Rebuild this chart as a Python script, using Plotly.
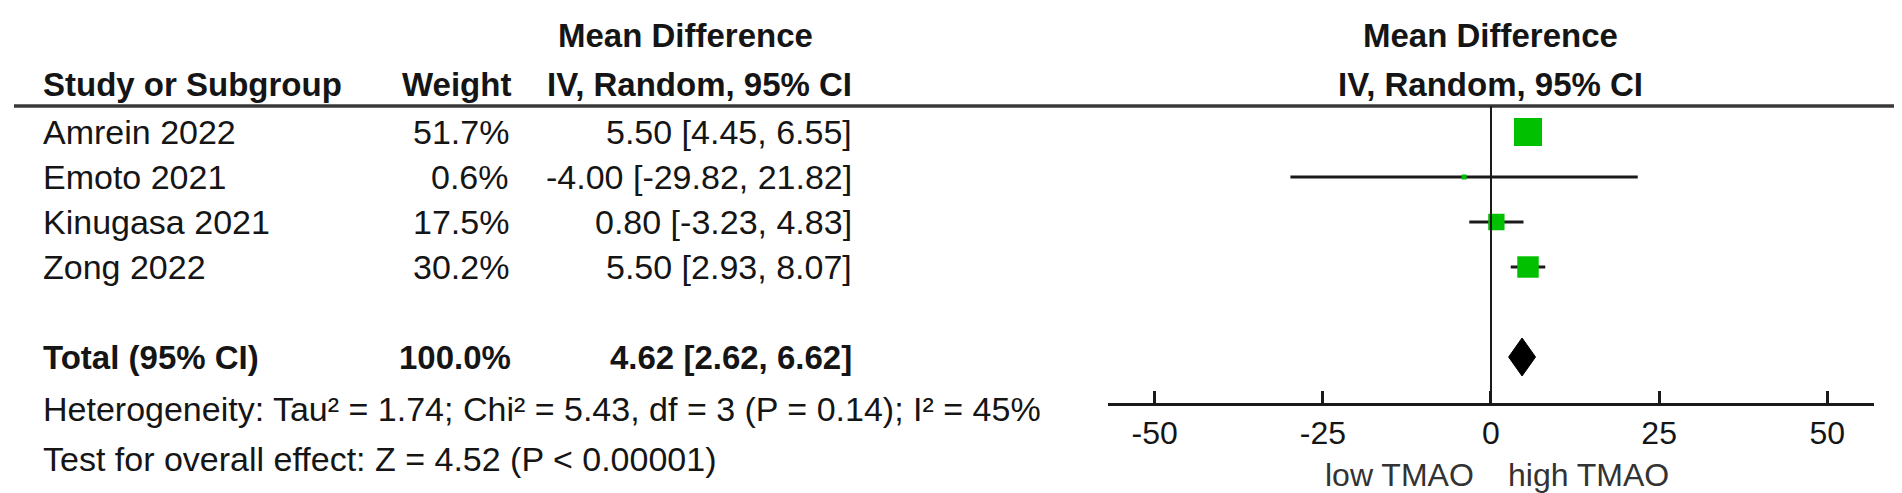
import plotly.graph_objects as go

# ---------------- data ----------------
studies = ["Amrein 2022", "Emoto 2021", "Kinugasa 2021", "Zong 2022"]
weights = [51.7, 0.6, 17.5, 30.2]
md = [5.50, -4.00, 0.80, 5.50]
ci_low = [4.45, -29.82, -3.23, 2.93]
ci_high = [6.55, 21.82, 4.83, 8.07]

total_label = "Total (95% CI)"
total_weight = 100.0
total_md = 4.62
total_low = 2.62
total_high = 6.62

heterogeneity = "Heterogeneity: Tau² = 1.74; Chi² = 5.43, df = 3 (P = 0.14); I² = 45%"
overall = "Test for overall effect: Z = 4.52 (P < 0.00001)"
tick_vals = [-50, -25, 0, 25, 50]
tick_text = ["-50", "-25", "0", "25", "50"]
favours_left = "low TMAO"
favours_right = "high TMAO"

# ---------------- layout constants ----------------
W, H = 1902, 493
ROW0, ROWH = 124, 45          # pixel of first row and row spacing
FONT = "Liberation Sans, Arial, sans-serif"
FS = 34
FSB = 33
TXT = "#151515"
GREEN = "rgb(0,192,0)"

def py(p):            # pixel y -> row units
    return (p - ROW0) / ROWH

def px(p):            # pixel x -> paper
    return p / W

def pyp(p):           # pixel y -> paper
    return 1 - p / H

rows = list(range(len(studies)))
total_row = len(studies) + 1

fig = go.Figure()

# CI lines (drawn first, under the squares)
ci_x, ci_y = [], []
for i in rows:
    ci_x += [ci_low[i], ci_high[i], None]
    ci_y += [i, i, None]
fig.add_trace(go.Scatter(
    x=ci_x, y=ci_y, mode="lines",
    line=dict(color="#1a1a1a", width=3),
    hoverinfo="skip", showlegend=False,
))

# squares, area proportional to weight
sizes = [max(3.9 * w ** 0.5, 5) for w in weights]
fig.add_trace(go.Scatter(
    x=md, y=rows, mode="markers",
    marker=dict(symbol="square", size=sizes, color=GREEN, opacity=1,
                line=dict(width=0)),
    hoverinfo="skip", showlegend=False,
))

# diamond for total
dh = 19 / ROWH
fig.add_trace(go.Scatter(
    x=[total_low, total_md, total_high, total_md, total_low],
    y=[total_row, total_row - dh, total_row, total_row + dh, total_row],
    mode="lines", fill="toself", fillcolor="#000000",
    line=dict(color="#000000", width=1),
    hoverinfo="skip", showlegend=False,
))

ann = []
def text(x, y, s, anchor="left", bold=False, xref="paper", size=None, color=TXT, xshift=0):
    if size is None:
        size = FSB if bold else FS
    if bold:
        s = "<b>" + s + "</b>"
    ann.append(dict(x=x, y=y, xref=xref, yref="y", text=s, showarrow=False,
                    xanchor=anchor, yanchor="middle", xshift=xshift,
                    font=dict(family=FONT, size=size, color=color)))

# headers
text(px(677), py(27), "Mean Difference", "center", True)
text(px(33), py(76), "Study or Subgroup", "left", True)
text(px(505), py(76), "Weight", "right", True)
text(px(846), py(76), "IV, Random, 95% CI", "right", True)
text(0, py(27), "Mean Difference", "center", True, xref="x")
text(0, py(76), "IV, Random, 95% CI", "center", True, xref="x")

# study rows
for i, s in enumerate(studies):
    text(px(33), i, s, "left")
    text(px(503), i, f"{weights[i]:.1f}%", "right")
    text(px(846), i, f"{md[i]:.2f} [{ci_low[i]:.2f}, {ci_high[i]:.2f}]", "right")

# total row
text(px(33), total_row, total_label, "left", True)
text(px(505), total_row, f"{total_weight:.1f}%", "right", True)
text(px(846), total_row, f"{total_md:.2f} [{total_low:.2f}, {total_high:.2f}]", "right", True)

text(px(33), py(401), heterogeneity, "left")
text(px(33), py(451), overall, "left")

# favours labels
text(0, py(467), favours_left, "right", xref="x", size=32, color="#333333", xshift=-15)
text(0, py(467), favours_right, "left", xref="x", size=32, color="#333333", xshift=15)

AXIS_PX = 396
shapes = [
    dict(type="line", xref="paper", yref="paper", x0=px(6), x1=px(1896),
         y0=pyp(98), y1=pyp(98), line=dict(color="#383838", width=3.5)),
    dict(type="line", xref="x", yref="paper", x0=0, x1=0,
         y0=pyp(98), y1=pyp(AXIS_PX), line=dict(color="#1a1a1a", width=2)),
]

left_px = 1483 - 57 * 6.726
right_px = 1483 + 57 * 6.726

fig.update_layout(
    width=W, height=H,
    margin=dict(l=0, r=0, t=0, b=0),
    paper_bgcolor="white", plot_bgcolor="white",
    annotations=ann, shapes=shapes,
    xaxis=dict(domain=[px(left_px), px(right_px)], range=[-57, 57],
               anchor="free", position=pyp(AXIS_PX),
               showgrid=False, zeroline=False, showline=True,
               linecolor="#1a1a1a", linewidth=3,
               ticks="inside", ticklen=12, tickwidth=2.5, tickcolor="#1a1a1a",
               tickvals=tick_vals, ticktext=tick_text,
               tickfont=dict(family=FONT, size=32, color=TXT)),
    yaxis=dict(domain=[0, 1], range=[py(H), py(0)], visible=False,
               showgrid=False, zeroline=False),
    showlegend=False,
)

fig.write_html("out.html")
